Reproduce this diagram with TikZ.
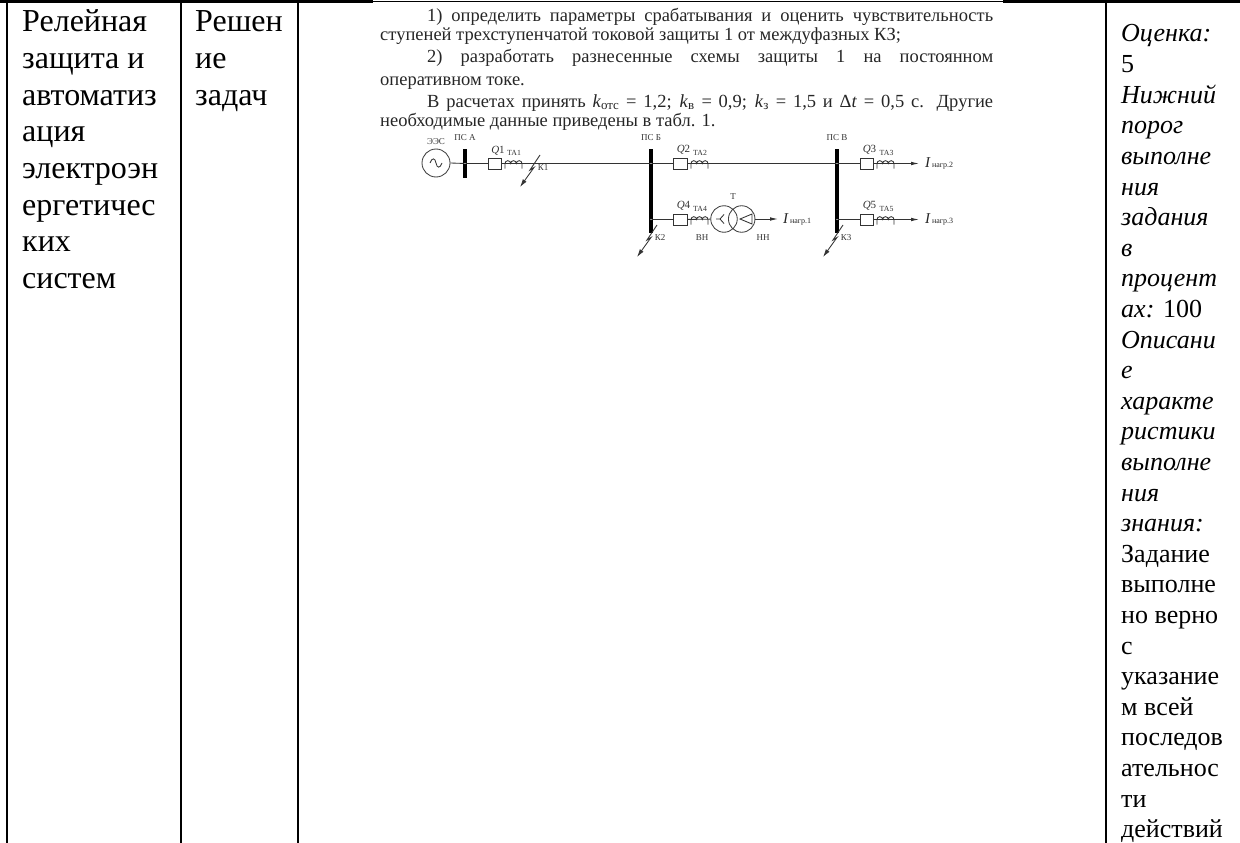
\documentclass[tikz,border=0pt]{standalone}
\usepackage{fontspec}
\setmainfont{Liberation Serif}
\usetikzlibrary{arrows.meta}
\tikzset{
    celltext/.style={anchor=base west,inner sep=0pt,font=\fontsize{32}{36}\selectfont},
    marktext/.style={anchor=base west,inner sep=0pt,font=\fontsize{26}{30}\selectfont},
    scantext/.style={anchor=base west,inner sep=0pt,font=\fontsize{18.5}{21}\selectfont,text=black!85},
    tinytext/.style={inner sep=0pt,font=\fontsize{9}{10}\selectfont,text=black!80},
    tatext/.style={inner sep=0pt,font=\fontsize{7.8}{9}\selectfont,text=black!80},
    loadtext/.style={anchor=base west,inner sep=0pt,font=\fontsize{8}{9}\selectfont,text=black!85},
    wire/.style={draw=black!80,line width=.85pt},
    busbar/.style={fill=black,inner sep=0pt,minimum width=3.4pt},
    breaker/.style={draw=black!80,fill=white,line width=.85pt,inner sep=0pt,minimum width=13.5pt,minimum height=11pt},
    winding/.style={draw=black!75,line width=.85pt,circle,inner sep=0pt,minimum size=26.5pt},
    feeder/.style={wire,-{Latex[length=8pt,width=3.6pt]}},
    faultline/.style={draw=black!80,line width=.85pt,-{Latex[length=8pt,width=4.5pt]}}
}
\newcommand{\coilat}[2]{%
    \draw[wire] (#1,{-#2-5}) -- (#1,-#2) arc (180:0:2.83) arc (180:0:2.83) arc (180:0:2.83) -- ++(0,-5);
}
\begin{document}
\begin{tikzpicture}[x=1pt,y=1pt]
    \useasboundingbox (0,-843) rectangle (1240,0);
    % the table lines
    \draw[line width=2.2pt] (0,-1.5) -- (373,-1.5);
    \draw[line width=1pt] (373,-1.5) -- (1003,-1.5);
    \draw[line width=2.2pt] (1003,-1.5) -- (1240,-1.5);
    \foreach \x in {7,181,298,1106}
        \draw[line width=1.7pt] (\x,0) -- (\x,-843);
    % the first columns
    \foreach \txt [count=\i from 0] in {Релейная,защита и,автоматиз,ация,электроэн,ергетичес,ких,систем}
        \node[celltext] (topic-\i) at (22,{-(32+\i*36.6)}) {\txt};
    \foreach \txt [count=\i from 0] in {Решен,ие,задач}
        \node[celltext] (kind-\i) at (195,{-(32+\i*36.6)}) {\txt};
    % the last column
    \foreach \txt [count=\i from 0] in {\textit{Оценка:},5,\textit{Нижний},\textit{порог},\textit{выполне},\textit{ния},\textit{задания},\textit{в},\textit{процент},\textit{ах:} 100,\textit{Описани},\textit{е},\textit{характе},\textit{ристики},\textit{выполне},\textit{ния},\textit{знания:},Задание,выполне,но верно,с,указание,м всей,последов,ательнос,ти,действий}
        \node[marktext] (mark-\i) at (1121,{-(42+\i*30.6)}) {\txt};
    % the scanned text
    \node[scantext] (line-a) at (427,-21.7) {\makebox[566pt][s]{1) определить параметры срабатывания и оценить чувствительность}};
    \node[scantext] (line-b) at (380,-40.7) {ступеней трехступенчатой токовой защиты 1 от междуфазных КЗ;};
    \node[scantext] (line-c) at (427,-63) {\makebox[566pt][s]{2) разработать разнесенные схемы защиты 1 на постоянном}};
    \node[scantext] (line-d) at (380,-85) {оперативном токе.};
    \node[scantext] (line-e) at (427,-107) {\makebox[566pt][s]{В расчетах принять \textit{k}\textsubscript{отс} = 1,2; \textit{k}\textsubscript{в} = 0,9; \textit{k}\textsubscript{з} = 1,5 и Δ\textit{t} = 0,5 с. Другие}};
    \node[scantext] (line-f) at (380,-126) {необходимые данные приведены в табл. 1.};

    % the source and the buses
    \node[winding,minimum size=28pt] (gen) at (436,-163) {};
    \draw[wire] (430,-163) .. controls (432,-157.5) and (435,-157.5) .. (436,-163) .. controls (437,-168.5) and (440,-168.5) .. (442,-163);
    \node[busbar,minimum height=29pt] (busa) at (465,-163.5) {};
    \node[busbar,minimum height=84pt] (busb) at (651,-191) {};
    \node[busbar,minimum height=84pt] (busc) at (837,-191) {};
    % the breakers
    \node[breaker] (qone) at (495,-163.5) {};
    \node[breaker] (qtwo) at (680.5,-163.5) {};
    \node[breaker] (qthree) at (867,-163.5) {};
    \node[breaker] (qfour) at (680.5,-219.5) {};
    \node[breaker] (qfive) at (867,-219.5) {};
    % the transformer
    \node[winding] (tone) at (724,-219) {};
    \node[winding] (ttwo) at (741.7,-219) {};
    \draw[wire] (716,-219) -- (720,-219) -- (724,-214.5) (720,-219) -- (724,-223.5);
    \draw[wire] (740,-219) -- (752,-214) -- (752,-224) -- cycle;
    % the free ends and the taps
    \coordinate (tapa) at (465,-163.5);
    \coordinate (tapb) at (651,-163.5);
    \coordinate (tapc) at (837,-163.5);
    \coordinate (tapd) at (651,-219.5);
    \coordinate (tape) at (837,-219.5);
    \coordinate (endone) at (919,-163.5);
    \coordinate (endtwo) at (778,-219);
    \coordinate (endthree) at (919,-219.5);
    % the wires
    \draw[wire] (gen.east) -- (tapa) -- (qone);
    \draw[wire] (qone) -- (tapb) -- (qtwo);
    \draw[wire] (qtwo) -- (tapc) -- (qthree);
    \draw[wire] (tapd) -- (qfour);
    \draw[wire] (qfour) -- (tone);
    \draw[wire] (tape) -- (qfive);
    \draw[feeder] (qthree) -- (endone);
    \draw[feeder] (ttwo) -- (endtwo);
    \draw[feeder] (qfive) -- (endthree);
    \foreach \p in {tapa,tapb,tapc,tapd,tape}
        \fill[white] (\p) circle (.6);
    % the current transformers
    \coilat{505}{163.5}
    \coilat{691}{163.5}
    \coilat{877}{163.5}
    \coilat{691}{219.5}
    \coilat{877}{219.5}
    % the faults
    \foreach \fname/\fx/\fy in {kone/540/155,ktwo/657/225,kthree/843/225} {
        \coordinate (\fname-top) at (\fx,-\fy);
        \coordinate (\fname-mida) at (\fx-10,-\fy-15);
        \coordinate (\fname-midb) at (\fx-6,-\fy-12.5);
        \coordinate (\fname-end) at (\fx-20,-\fy-32);
        \draw[faultline] (\fname-top) -- (\fname-mida) -- (\fname-midb) -- (\fname-end);
    }
    % the labels of the scheme
    \node[tinytext] (lbl-gen) at (436,-142) {ЭЭС};
    \node[tinytext] (lbl-busa) at (465,-138) {ПС А};
    \node[tinytext] (lbl-busb) at (651,-138) {ПС Б};
    \node[tinytext] (lbl-busc) at (837,-138) {ПС В};
    \foreach \lname/\ltxt/\lx/\ly in {kone/К1/543/168,ktwo/К2/660/238,kthree/К3/846/238,bh/ВН/702/238,hh/НН/763/238,tt/Т/733/197}
        \node[tinytext] (lbl-\lname) at (\lx,-\ly) {\ltxt};
    \foreach \lname/\ltxt/\lx/\ly in {taone/ТА1/514/153,tatwo/ТА2/700/153,tathree/ТА3/886.5/153,tafour/ТА4/700/209,tafive/ТА5/886.5/209}
        \node[tatext] (lbl-\lname) at (\lx,-\ly) {\ltxt};
    \foreach \lname/\ltxt/\lx/\ly in {qone/1/498/151,qtwo/2/683.5/150,qthree/3/869.5/150,qfour/4/683.5/206,qfive/5/869.5/206}
        \node[tinytext,font=\fontsize{11}{12}\selectfont] (lbl-\lname) at (\lx,-\ly) {\textit{Q}\ltxt};
    \foreach \lname/\ltxt/\lx/\ly in {loadone/2/925/167,loadtwo/1/783/223,loadthree/3/925/223}
        \node[loadtext] (lbl-\lname) at (\lx,-\ly) {{\fontsize{15}{16}\selectfont\textit{I}}\,нагр.\ltxt};
\end{tikzpicture}
\end{document}
